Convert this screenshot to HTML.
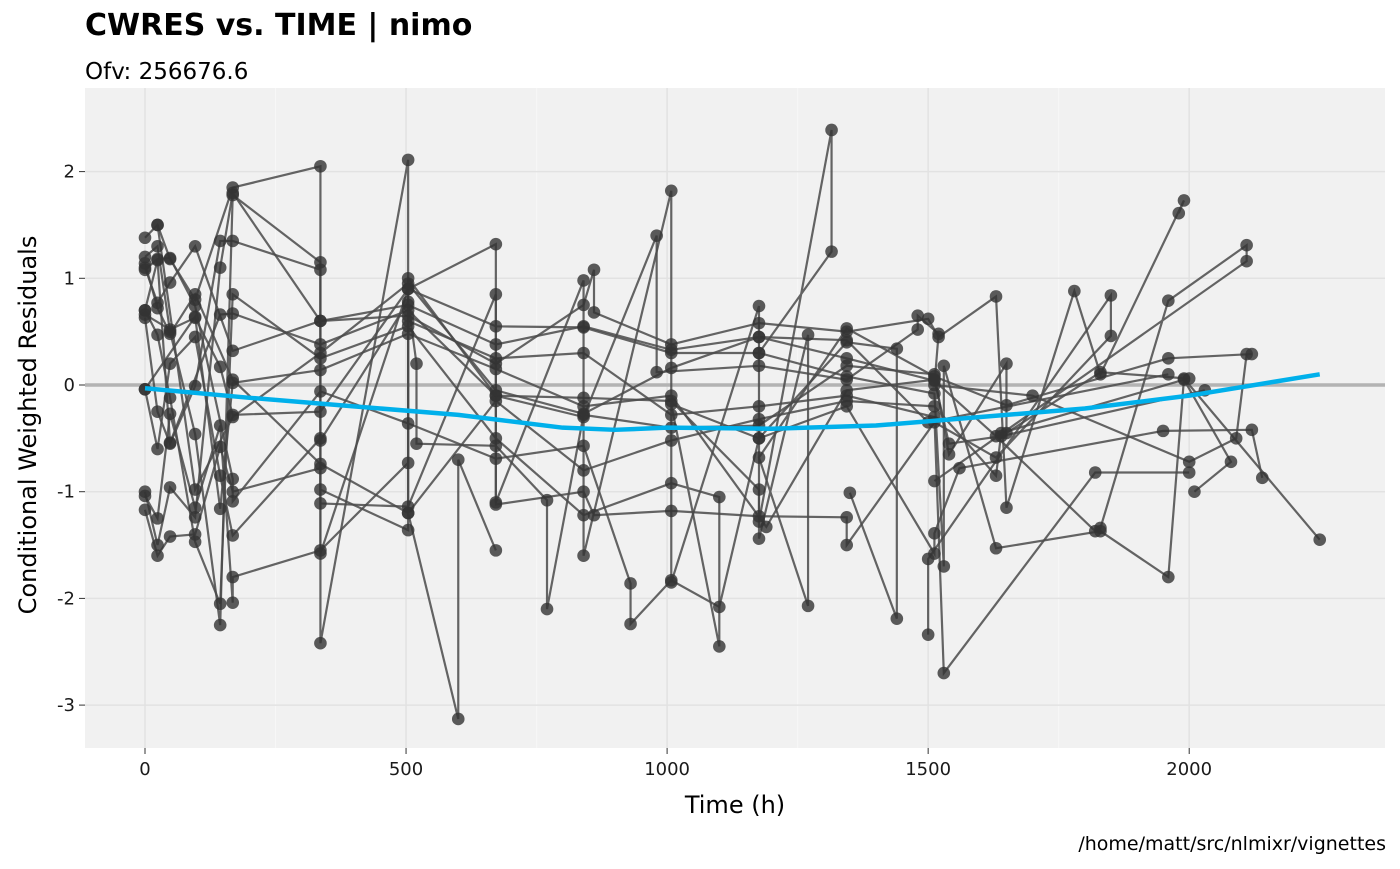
<!DOCTYPE html>
<html><head><meta charset="utf-8"><style>
body{margin:0;background:#fff;font-family:"DejaVu Sans","Liberation Sans",sans-serif;}
</style></head><body>
<svg id="chart" width="1400" height="865" xmlns="http://www.w3.org/2000/svg">
<text x="85" y="35" font-size="30" font-weight="bold">CWRES vs. TIME | nimo</text>
<text x="85" y="79" font-size="23">Ofv: 256676.6</text>
<rect x="85" y="88" width="1300" height="660" fill="#f1f1f1"/>
<g id="grid"></g><g id="lines"></g><g id="pts"></g><g id="smooth"></g><g id="axes"></g>
<text x="735" y="813" font-size="24" text-anchor="middle">Time (h)</text>
<text transform="translate(36,425) rotate(-90)" font-size="24" text-anchor="middle">Conditional Weighted Residuals</text>
<text x="1386" y="850" font-size="19" text-anchor="end">/home/matt/src/nlmixr/vignettes</text>
</svg>
<script>
const xTicks=[0,500,1000,1500,2000];
const yTicks=[-3,-2,-1,0,1,2];
const smoothT=[0,200,400,600,800,900,1000,1200,1400,1600,1800,2000,2250];
const smoothY=[-0.03,-0.12,-0.2,-0.28,-0.4,-0.42,-0.4,-0.41,-0.38,-0.3,-0.22,-0.1,0.1];
const subjects=[
[[0,1.38],[24,1.5],[48,1.18],[96,0.8],[168,1.85],[336,2.05],[336,-2.42],[504,2.11],[504,-1.2],[600,-3.13],[600,-0.7],[672,-1.55]],
[[0,1.2],[24,1.3],[48,0.5],[96,-0.46],[144,-2.25],[168,1.78],[336,1.15],[336,-1.58],[504,0.9],[672,1.32],[672,-1.1],[840,0.98],[840,-1.6],[1008,1.82],[1008,-1.85],[1176,0.74],[1176,-1.28],[1315,2.39],[1315,1.25],[1176,0.3]],
[[0,1.1],[24,0.77],[48,0.96],[96,1.3],[168,0.32],[336,0.6],[504,0.65],[672,0.2],[840,0.75],[860,1.08],[860,0.68],[1008,0.38],[1176,0.58],[1344,0.5],[1500,0.62],[1520,0.45],[1630,0.83],[1650,-1.15],[1780,0.88],[1830,0.1],[1990,1.73],[1980,1.61]],
[[0,0.7],[24,0.47],[48,-0.12],[96,-1.47],[144,-2.05],[168,0.85],[336,0.25],[504,0.55],[672,-0.5],[840,-1.22],[1008,-0.92],[1100,-1.05],[1100,-2.45],[1008,-0.18],[1176,-0.5],[1344,0.4],[1440,0.34],[1440,-2.19],[1350,-1.01]],
[[0,0.63],[24,-0.25],[48,-0.55],[96,-0.01],[144,1.35],[168,1.35],[336,1.08],[336,-0.52],[504,0.78],[520,0.2],[520,-0.55],[672,-0.57],[770,-1.08],[770,-2.1],[840,-0.28],[1008,-0.4],[1176,-0.38],[1344,0.18],[1512,0.1],[1540,-0.65],[1650,0.2],[1650,-0.45],[1830,0.12],[2000,0.06]],
[[0,-1.0],[24,-1.5],[48,-0.96],[96,-1.24],[144,1.1],[168,1.8],[336,0.6],[504,0.75],[672,0.38],[840,0.55],[1008,0.33],[1176,0.45],[1344,0.25],[1512,0.04],[1630,-0.48],[1820,-1.37],[1830,-1.34],[1960,0.79],[2110,1.31],[2110,1.16],[1512,-0.9]],
[[0,-1.17],[24,-1.6],[48,-1.42],[96,-1.4],[144,-0.58],[168,-1.0],[336,-0.78],[336,-0.98],[504,-1.36],[504,0.6],[672,0.25],[840,0.3],[1008,-0.28],[1176,-0.2],[1344,-0.1],[1512,-0.3],[1530,-2.7],[1820,-0.82],[2000,-0.82]],
[[0,-0.04],[24,-0.6],[48,0.2],[96,0.45],[144,-0.85],[168,-1.41],[336,-0.5],[336,-1.11],[504,-1.14],[672,0.85],[672,-1.12],[840,-1.0],[860,-1.22],[1008,-1.18],[1176,-1.23],[1344,-1.24],[1344,-1.5],[1512,-0.35],[1630,-0.68],[1850,0.46],[1850,0.84],[1500,-1.63],[1500,-2.34]],
[[0,-1.04],[24,-1.25],[48,-0.27],[96,-1.15],[144,-0.38],[168,-2.04],[168,-1.8],[336,-1.55],[504,-0.73],[504,1.0],[672,-0.1],[840,-0.12],[1008,-0.15],[1176,-0.98],[1176,-1.44],[1270,0.47],[1270,-2.07],[1176,-0.68],[1344,0.53],[1512,0.08],[1650,-0.19],[1960,0.25],[2120,0.29]],
[[0,0.66],[48,0.52],[96,0.63],[144,0.17],[168,-0.28],[336,-0.25],[504,0.9],[672,0.55],[840,0.54],[1008,0.3],[1176,0.3],[1344,0.08],[1512,-0.08],[1530,-1.7],[1530,0.18],[1630,-1.53],[1830,-1.37],[1960,-1.8],[1990,0.06],[2250,-1.45]],
[[0,1.08],[24,1.18],[48,1.19],[96,0.74],[168,-0.88],[168,-1.09],[336,-0.06],[504,-0.36],[672,-0.69],[840,-0.57],[930,-1.86],[930,-2.24],[1008,-1.83],[1100,-2.08],[1176,-0.5],[1344,-0.2],[1512,-1.58],[1512,-1.39],[1560,-0.78],[1950,-0.43],[2120,-0.42],[2140,-0.87]],
[[0,0.7],[24,1.17],[48,-0.54],[144,0.66],[168,0.67],[336,0.38],[504,0.7],[672,-0.1],[840,-0.3],[980,1.4],[980,0.12],[1176,0.18],[1344,0.05],[1480,0.52],[1480,0.65],[1520,0.48],[1512,0.0],[1700,-0.1],[2000,-0.72],[2090,-0.5],[2110,0.29]],
[[0,1.14],[24,0.72],[48,0.48],[96,0.85],[168,0.05],[336,-0.74],[504,-1.2],[672,-0.15],[840,-0.8],[1008,-0.52],[1176,-0.32],[1344,-0.15],[1512,-0.2],[1630,-0.85],[1640,-0.45],[1990,0.05],[2080,-0.72],[2010,-1.0]],
[[0,-0.04],[96,0.64],[144,-1.16],[168,0.02],[336,0.14],[504,0.48],[672,0.15],[840,-0.2],[1008,-0.1],[1190,-1.33],[1344,-0.05],[1512,0.05],[1540,-0.55],[1640,-0.48],[2030,-0.05]],
[[24,1.5],[96,-0.98],[168,-0.3],[336,0.3],[504,0.95],[672,-0.05],[840,-0.27],[1008,0.16],[1176,0.45],[1344,0.42],[1500,-0.35],[1960,0.1]]
];
const X=t=>145+t*0.5221, Y=v=>385-v*106.7;
const ns="http://www.w3.org/2000/svg";
function mk(tag,attrs,parent){const e=document.createElementNS(ns,tag);for(const k in attrs)e.setAttribute(k,attrs[k]);document.getElementById(parent).appendChild(e);return e;}
[250,750,1250,1750].forEach(t=>{const e=mk('line',{x1:X(t),x2:X(t),y1:88,y2:748,stroke:'#f7f7f7','stroke-width':1},'grid');});
xTicks.forEach(t=>{const e=mk('line',{x1:X(t),x2:X(t),y1:88,y2:748,stroke:'#e2e2e2','stroke-width':1.5},'grid');
const k=mk('line',{x1:X(t),x2:X(t),y1:748,y2:754,stroke:'#333'},'axes');
const l=mk('text',{x:X(t),y:775,'font-size':18,'text-anchor':'middle',fill:'#1a1a1a'},'axes');l.textContent=t;});
yTicks.forEach(v=>{const e=mk('line',{x1:85,x2:1385,y1:Y(v),y2:Y(v),stroke:'#e2e2e2','stroke-width':1.5},'grid');
const k=mk('line',{x1:79,x2:85,y1:Y(v),y2:Y(v),stroke:'#333'},'axes');
const l=mk('text',{x:75,y:Y(v)+6,'font-size':18,'text-anchor':'end',fill:'#1a1a1a'},'axes');l.textContent=v;});
const z=mk('line',{x1:85,x2:1385,y1:Y(0),y2:Y(0),stroke:'#b3b3b3','stroke-width':3.5},'grid');


subjects.forEach(s=>{const p=mk('polyline',{points:s.map(d=>X(d[0])+','+Y(d[1])).join(' '),fill:'none',stroke:'#4a4a4a','stroke-width':2.2,'stroke-opacity':0.85},'lines');


s.forEach(d=>{const c=mk('circle',{cx:X(d[0]),cy:Y(d[1]),r:6.3,fill:'#333','fill-opacity':0.8},'pts');

});});
const sm=mk('polyline',{points:smoothT.map((t,i)=>X(t)+','+Y(smoothY[i])).join(' '),fill:'none',stroke:'#00b0eb','stroke-width':4.5,'stroke-linejoin':'round'},'smooth');


</script>
</body></html>
